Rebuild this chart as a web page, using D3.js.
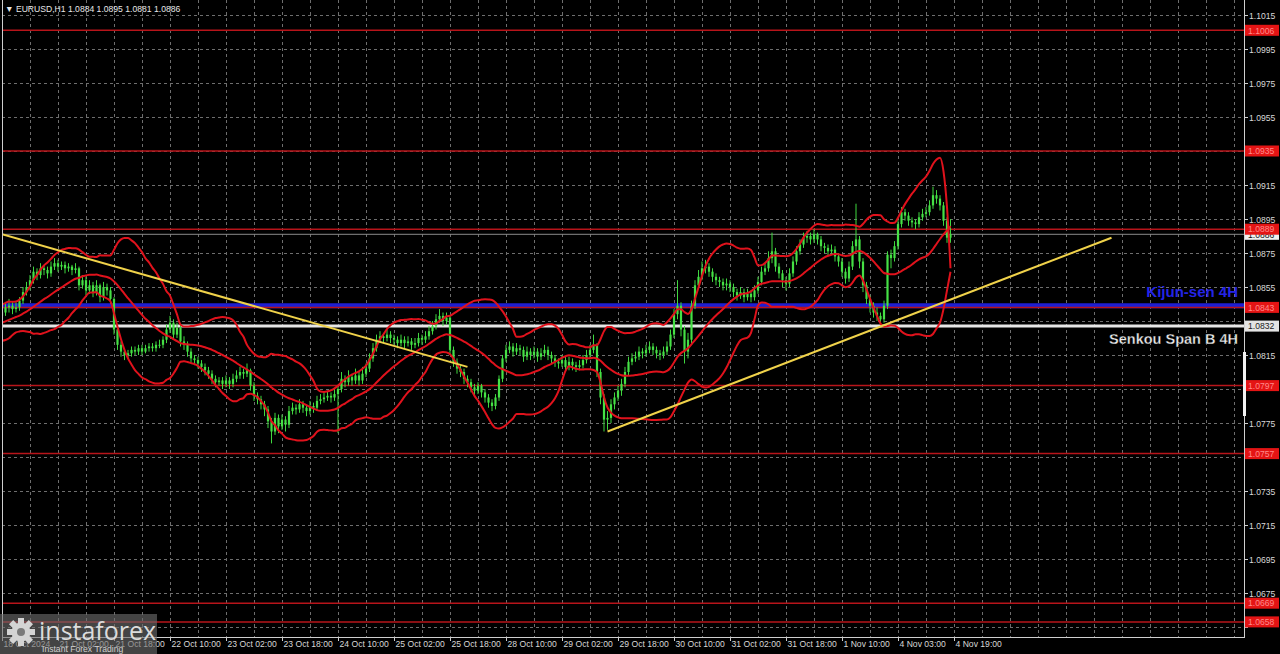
<!DOCTYPE html>
<html><head><meta charset="utf-8">
<script src="https://cdn.jsdelivr.net/npm/d3@7"></script>
<style>html,body{margin:0;padding:0;background:#000;overflow:hidden}svg{display:block}</style>
</head><body><svg id="c" width="1280" height="654"></svg>
<script>
// ---------- DATA ----------
const symbolTitle = "EURUSD,H1  1.0884 1.0895 1.0881 1.0886";
const firstOpen = 1.0838;
// 19 hourly closes before the first visible bar (needed for the 20-period bands)
const preCloses = [1.0828,1.0826,1.0824,1.0827,1.0830,1.0829,1.0832,1.0831,1.0834,1.0833,1.0836,1.0835,1.0838,1.0837,1.0840,1.0839,1.0842,1.0838,1.0841];
const closes = [
1.0840,1.0843,1.0844,1.0842,1.0843,1.0847,1.0852,1.0855,1.0859,1.0864,
1.0862,1.0866,1.0865,1.0863,1.0867,1.0869,1.0867,1.0868,1.0866,1.0867,
1.0865,1.0866,1.0856,1.0859,1.0853,1.0856,1.0852,1.0856,1.0849,1.0855,
1.0853,1.0848,1.0830,1.0821,1.0817,1.0815,1.0816,1.0818,1.0817,1.0819,
1.0817,1.0819,1.0820,1.0819,1.0821,1.0821,1.0824,1.0830,1.0834,1.0827,
1.0831,1.0823,1.0821,1.0817,1.0813,1.0812,1.0810,1.0808,1.0806,1.0804,
1.0801,1.0799,1.0800,1.0798,1.0800,1.0798,1.0801,1.0803,1.0805,1.0804,
1.0806,1.0797,1.0791,1.0789,1.0786,1.0783,1.0776,1.0770,1.0778,1.0773,
1.0777,1.0774,1.0782,1.0784,1.0783,1.0786,1.0784,1.0782,1.0785,1.0784,
1.0788,1.0789,1.0790,1.0791,1.0790,1.0792,1.0795,1.0801,1.0799,1.0802,
1.0800,1.0803,1.0800,1.0804,1.0807,1.0813,1.0819,1.0824,1.0826,1.0825,
1.0827,1.0825,1.0824,1.0822,1.0824,1.0822,1.0823,1.0821,1.0822,1.0825,
1.0824,1.0826,1.0829,1.0832,1.0836,1.0838,1.0835,1.0837,1.0818,1.0811,
1.0807,1.0805,1.0801,1.0799,1.0796,1.0794,1.0797,1.0793,1.0790,1.0787,
1.0785,1.0790,1.0801,1.0813,1.0818,1.0820,1.0817,1.0819,1.0818,1.0814,
1.0817,1.0815,1.0817,1.0814,1.0816,1.0818,1.0815,1.0813,1.0811,1.0810,
1.0812,1.0808,1.0811,1.0809,1.0808,1.0809,1.0812,1.0815,1.0818,1.0821,
1.0805,1.0790,1.0777,1.0778,1.0786,1.0790,1.0794,1.0798,1.0805,1.0811,
1.0813,1.0814,1.0817,1.0816,1.0818,1.0820,1.0818,1.0816,1.0815,1.0817,
1.0820,1.0827,1.0839,1.0844,1.0830,1.0817,1.0824,1.0844,1.0856,1.0861,
1.0866,1.0867,1.0864,1.0861,1.0859,1.0858,1.0856,1.0857,1.0855,1.0852,
1.0850,1.0852,1.0849,1.0851,1.0849,1.0853,1.0858,1.0864,1.0866,1.0872,
1.0876,1.0867,1.0863,1.0859,1.0857,1.0863,1.0870,1.0876,1.0880,1.0884,
1.0885,1.0883,1.0886,1.0883,1.0879,1.0878,1.0876,1.0877,1.0873,1.0870,
1.0864,1.0860,1.0867,1.0879,1.0883,1.0870,1.0856,1.0848,1.0844,1.0840,
1.0838,1.0836,1.0844,1.0874,1.0872,1.0879,1.0892,1.0899,1.0897,1.0894,
1.0893,1.0892,1.0896,1.0898,1.0899,1.0903,1.0909,1.0907,1.0903,1.0894,
1.0884,1.0886];
const highs = [
1.0843,1.0846,1.0848,1.0846,1.0846,1.0849,1.0855,1.0858,1.0862,1.0867,
1.0866,1.0869,1.0868,1.0867,1.0870,1.0872,1.0871,1.0870,1.0870,1.0869,
1.0868,1.0869,1.0867,1.0862,1.0861,1.0859,1.0858,1.0859,1.0857,1.0858,
1.0857,1.0855,1.0849,1.0832,1.0823,1.0819,1.0818,1.0820,1.0820,1.0821,
1.0821,1.0821,1.0822,1.0822,1.0823,1.0824,1.0826,1.0833,1.0838,1.0836,
1.0834,1.0833,1.0826,1.0823,1.0819,1.0815,1.0814,1.0812,1.0810,1.0808,
1.0806,1.0803,1.0802,1.0802,1.0803,1.0802,1.0804,1.0806,1.0808,1.0807,
1.0810,1.0807,1.0799,1.0793,1.0791,1.0788,1.0785,1.0778,1.0781,1.0780,
1.0780,1.0779,1.0785,1.0787,1.0786,1.0789,1.0788,1.0786,1.0788,1.0787,
1.0791,1.0792,1.0793,1.0794,1.0793,1.0795,1.0797,1.0805,1.0803,1.0806,
1.0804,1.0807,1.0805,1.0808,1.0810,1.0816,1.0822,1.0827,1.0829,1.0828,
1.0830,1.0829,1.0827,1.0826,1.0827,1.0826,1.0826,1.0825,1.0825,1.0828,
1.0827,1.0829,1.0832,1.0835,1.0839,1.0842,1.0840,1.0840,1.0838,1.0820,
1.0813,1.0809,1.0807,1.0803,1.0801,1.0798,1.0799,1.0798,1.0795,1.0792,
1.0789,1.0792,1.0803,1.0815,1.0821,1.0823,1.0822,1.0822,1.0821,1.0820,
1.0820,1.0819,1.0820,1.0819,1.0819,1.0821,1.0820,1.0817,1.0815,1.0813,
1.0815,1.0814,1.0814,1.0813,1.0811,1.0812,1.0815,1.0818,1.0821,1.0827,
1.0822,1.0807,1.0792,1.0782,1.0789,1.0793,1.0797,1.0801,1.0808,1.0814,
1.0816,1.0817,1.0820,1.0819,1.0821,1.0823,1.0822,1.0820,1.0818,1.0820,
1.0823,1.0830,1.0842,1.0859,1.0846,1.0832,1.0828,1.0847,1.0859,1.0865,
1.0870,1.0871,1.0869,1.0866,1.0863,1.0861,1.0860,1.0860,1.0859,1.0857,
1.0854,1.0855,1.0854,1.0854,1.0853,1.0856,1.0861,1.0867,1.0869,1.0876,
1.0887,1.0878,1.0869,1.0865,1.0861,1.0866,1.0873,1.0879,1.0883,1.0887,
1.0888,1.0887,1.0889,1.0887,1.0885,1.0881,1.0880,1.0880,1.0879,1.0875,
1.0872,1.0866,1.0870,1.0882,1.0904,1.0885,1.0872,1.0858,1.0850,1.0846,
1.0843,1.0840,1.0847,1.0876,1.0877,1.0882,1.0895,1.0902,1.0901,1.0899,
1.0896,1.0895,1.0899,1.0901,1.0902,1.0906,1.0914,1.0912,1.0909,1.0905,
1.0896,1.0895];
const lows = [
1.0835,1.0838,1.0840,1.0839,1.0840,1.0841,1.0845,1.0850,1.0853,1.0857,
1.0859,1.0860,1.0862,1.0860,1.0861,1.0865,1.0864,1.0865,1.0863,1.0864,
1.0862,1.0863,1.0853,1.0854,1.0850,1.0851,1.0849,1.0850,1.0846,1.0847,
1.0850,1.0845,1.0827,1.0818,1.0814,1.0812,1.0813,1.0814,1.0815,1.0815,
1.0815,1.0816,1.0817,1.0817,1.0817,1.0819,1.0819,1.0822,1.0828,1.0824,
1.0825,1.0820,1.0818,1.0814,1.0810,1.0809,1.0807,1.0805,1.0803,1.0801,
1.0798,1.0796,1.0797,1.0795,1.0796,1.0795,1.0796,1.0799,1.0801,1.0801,
1.0802,1.0794,1.0788,1.0786,1.0783,1.0779,1.0772,1.0763,1.0768,1.0769,
1.0771,1.0770,1.0772,1.0780,1.0780,1.0781,1.0781,1.0779,1.0780,1.0781,
1.0782,1.0786,1.0787,1.0788,1.0787,1.0788,1.0769,1.0793,1.0796,1.0797,
1.0797,1.0798,1.0797,1.0798,1.0802,1.0805,1.0811,1.0817,1.0822,1.0822,
1.0823,1.0822,1.0821,1.0819,1.0820,1.0819,1.0820,1.0818,1.0819,1.0820,
1.0821,1.0822,1.0824,1.0827,1.0830,1.0834,1.0832,1.0833,1.0815,1.0808,
1.0804,1.0802,1.0798,1.0796,1.0793,1.0791,1.0792,1.0790,1.0787,1.0784,
1.0782,1.0783,1.0788,1.0799,1.0811,1.0816,1.0814,1.0815,1.0815,1.0811,
1.0812,1.0812,1.0813,1.0811,1.0812,1.0814,1.0812,1.0810,1.0808,1.0807,
1.0808,1.0805,1.0806,1.0806,1.0805,1.0806,1.0807,1.0810,1.0813,1.0816,
1.0802,1.0786,1.0770,1.0771,1.0775,1.0783,1.0788,1.0791,1.0796,1.0803,
1.0809,1.0811,1.0812,1.0813,1.0814,1.0816,1.0815,1.0813,1.0812,1.0813,
1.0815,1.0818,1.0825,1.0836,1.0826,1.0810,1.0813,1.0822,1.0842,1.0854,
1.0859,1.0863,1.0861,1.0858,1.0856,1.0855,1.0853,1.0853,1.0852,1.0849,
1.0847,1.0848,1.0846,1.0847,1.0846,1.0847,1.0851,1.0856,1.0862,1.0864,
1.0869,1.0864,1.0860,1.0855,1.0853,1.0855,1.0861,1.0868,1.0874,1.0878,
1.0881,1.0880,1.0881,1.0880,1.0876,1.0875,1.0873,1.0874,1.0870,1.0867,
1.0861,1.0857,1.0858,1.0865,1.0876,1.0866,1.0852,1.0845,1.0840,1.0837,
1.0835,1.0833,1.0834,1.0842,1.0866,1.0870,1.0877,1.0890,1.0894,1.0891,
1.0890,1.0889,1.0890,1.0894,1.0896,1.0897,1.0901,1.0904,1.0900,1.0891,
1.0881,1.0881];
// band values of the last four bars as drawn on the reference (they close the band loop)
const upperTail = [1.0931,1.0923,1.0902,1.0866];
const lowerTail = [1.0834,1.0842,1.0853,1.0864];
const timeLabels = ["18 Oct 2024","21 Oct 02:00","21 Oct 18:00","22 Oct 10:00","23 Oct 02:00","23 Oct 18:00","24 Oct 10:00","25 Oct 02:00","25 Oct 18:00","28 Oct 10:00","29 Oct 02:00","29 Oct 18:00","30 Oct 10:00","31 Oct 02:00","31 Oct 18:00","1 Nov 10:00","4 Nov 03:00","4 Nov 19:00"];
const priceTicks = [1.1015,1.0995,1.0975,1.0955,1.0935,1.0915,1.0895,1.0875,1.0855,1.0835,1.0815,1.0795,1.0775,1.0755,1.0735,1.0715,1.0695,1.0675,1.0655];
const levels = [1.1006,1.0935,1.0889,1.0843,1.0797,1.0757,1.0669,1.0658];
const kijunSen = 1.0844;
const senkouSpanB = 1.0832;
const lastPrice = 1.0886;
const trendDown = [[0,1.0886],[133,1.0808]];
const trendUp = [[173,1.0770],[317,1.0884]];
const bandPeriod = 20, bandDev = 2;

// ---------- LAYOUT ----------
const L = 2, R = 1244, T = 0, B = 637, barW = 3.5;
const svg = d3.select("#c");
svg.append("rect").attr("width",1280).attr("height",654).attr("fill","#000");
const x = d3.scaleLinear().domain([0,(R-L)/barW]).range([L,R]);
const y = d3.scaleLinear().domain([1.0655,1.1015]).range([627,15]);
const FONT = "'Liberation Sans', Arial, sans-serif";
const AX = 8.6;

svg.append("clipPath").attr("id","plot").append("rect").attr("x",L).attr("y",T).attr("width",R-L).attr("height",B-T);
const g = svg.append("g").attr("clip-path","url(#plot)");

// grid
const vg = d3.range(8, (R-L)/barW, 8);
g.selectAll(".vg").data(vg).join("line")
  .attr("x1",d=>Math.round(x(d))+0.5).attr("x2",d=>Math.round(x(d))+0.5).attr("y1",T).attr("y2",B)
  .attr("stroke","#6e6e6e").attr("stroke-dasharray","3,3").attr("stroke-width",1);
g.selectAll(".hg").data(priceTicks).join("line")
  .attr("x1",L).attr("x2",R).attr("y1",d=>Math.round(y(d))+0.5).attr("y2",d=>Math.round(y(d))+0.5)
  .attr("stroke","#6e6e6e").attr("stroke-dasharray","3,3").attr("stroke-width",1);

// levels
g.selectAll(".lv").data(levels).join("line")
  .attr("x1",L).attr("x2",R).attr("y1",d=>y(d)).attr("y2",d=>y(d))
  .attr("stroke","#b8141a").attr("stroke-width",1.5);
// current price line
g.append("line").attr("x1",L).attr("x2",R).attr("y1",y(lastPrice)).attr("y2",y(lastPrice)).attr("stroke","#8a8a8a").attr("stroke-width",1);
// kijun
g.append("line").attr("x1",L).attr("x2",R).attr("y1",y(kijunSen)).attr("y2",y(kijunSen)).attr("stroke","#1e1ed2").attr("stroke-width",5);
g.append("line").attr("x1",L).attr("x2",R).attr("y1",y(levels[3])).attr("y2",y(levels[3])).attr("stroke","#b8141a").attr("stroke-width",1.2);
// senkou B
g.append("line").attr("x1",L).attr("x2",R).attr("y1",y(senkouSpanB)).attr("y2",y(senkouSpanB)).attr("stroke","#e6e6e6").attr("stroke-width",3);

// candles
const bars = closes.map((c,i)=>({i, o: i===0?firstOpen:closes[i-1], c, h: highs[i], l: lows[i]}));
const cg = g.append("g");
cg.selectAll(".wk").data(bars).join("line")
  .attr("x1",d=>x(d.i)).attr("x2",d=>x(d.i))
  .attr("y1",d=>y(Math.max(d.h,d.o,d.c))).attr("y2",d=>y(Math.min(d.l,d.o,d.c)))
  .attr("stroke","#3fd83f").attr("stroke-width",1);
cg.selectAll(".bd").data(bars).join("rect")
  .attr("x",d=>x(d.i)-1.1).attr("width",2.2)
  .attr("y",d=>y(Math.max(d.o,d.c))).attr("height",d=>Math.max(1,Math.abs(y(d.o)-y(d.c))))
  .attr("fill","#45e045");

// bollinger bands from closes
const all = preCloses.concat(closes);
const n = closes.length;
const bands = closes.map((c,i)=>{
  const w = all.slice(i+preCloses.length-bandPeriod+1, i+preCloses.length+1);
  const m = d3.mean(w);
  const sd = Math.sqrt(d3.mean(w, v=>(v-m)*(v-m)));
  const k = i-(n-upperTail.length);
  return {i, m, u: k>=0?upperTail[k]:m+bandDev*sd, d: k>=0?lowerTail[k]:m-bandDev*sd};
});
const bl = k => d3.line().x(d=>x(d.i)).y(d=>y(d[k])).curve(d3.curveMonotoneX);
["u","m","d"].forEach(k=>{
  g.append("path").datum(bands).attr("d",bl(k)).attr("fill","none").attr("stroke","#e0121c").attr("stroke-width",2);
});

// trend lines
[trendDown,trendUp].forEach(t=>{
  g.append("line").attr("x1",x(t[0][0])).attr("y1",y(t[0][1])).attr("x2",x(t[1][0])).attr("y2",y(t[1][1]))
   .attr("stroke","#f0d24a").attr("stroke-width",2);
});

// labels in plot
g.append("text").attr("x",1238).attr("y",297).attr("text-anchor","end").attr("font-family",FONT)
  .attr("font-weight","bold").attr("font-size",15).attr("fill","#2424e6").text("Kijun-sen 4H");
g.append("text").attr("x",1238).attr("y",344).attr("text-anchor","end").attr("font-family",FONT)
  .attr("font-weight","bold").attr("font-size",14.5).attr("fill","#ececec").attr("stroke","#000").attr("stroke-width",0.3).text("Senkou Span B 4H");

// frame
svg.append("line").attr("x1",L+0.5).attr("x2",L+0.5).attr("y1",T).attr("y2",B).attr("stroke","#cfcfcf");
svg.append("line").attr("x1",R+0.5).attr("x2",R+0.5).attr("y1",T).attr("y2",B+1).attr("stroke","#cfcfcf");
svg.append("line").attr("x1",L).attr("x2",R+1).attr("y1",B+0.5).attr("y2",B+0.5).attr("stroke","#cfcfcf");

// right axis (tick texts hidden by a level label are not drawn)
const ra = svg.append("g");
const covered = p => levels.concat([senkouSpanB,lastPrice]).some(l=>Math.abs(y(l)-y(p))<7);
priceTicks.forEach(p=>{
  const yy = Math.round(y(p))+0.5;
  ra.append("line").attr("x1",R).attr("x2",R+4).attr("y1",yy).attr("y2",yy).attr("stroke","#cfcfcf");
  if(!covered(p)) ra.append("text").attr("x",R+5).attr("y",yy+3.2).attr("font-family",FONT).attr("font-size",AX).attr("fill","#d8d8d8").text(p.toFixed(4));
});
// side bar marker
svg.append("rect").attr("x",R-1).attr("y",352).attr("width",3).attr("height",64).attr("fill","#f2f2f2");

// price labels
function plabel(p, bg, fg, txt){
  const yy = y(p);
  ra.append("rect").attr("x",R+1).attr("y",yy-5.5).attr("width",34).attr("height",11).attr("fill",bg);
  ra.append("text").attr("x",R+4).attr("y",yy+3.2).attr("font-family",FONT).attr("font-size",AX).attr("fill",fg).text(txt);
}
plabel(lastPrice,"#f0f0f0","#111",lastPrice.toFixed(4));
plabel(senkouSpanB,"#e4e4e4","#222",senkouSpanB.toFixed(4));
levels.forEach(p=>plabel(p,"#e41414","#ff8a8a",p.toFixed(4)));

// bottom axis
const ba = svg.append("g");
timeLabels.forEach((t,k)=>{
  const xx = Math.round(x(k*16))+0.5;
  ba.append("line").attr("x1",xx).attr("x2",xx).attr("y1",B).attr("y2",B+4).attr("stroke","#cfcfcf");
  ba.append("text").attr("x",xx+1).attr("y",647).attr("font-family",FONT).attr("font-size",AX).attr("fill","#d8d8d8").text(t);
});

// title
svg.append("text").attr("x",5).attr("y",12).attr("font-family",FONT).attr("font-size",AX).attr("fill","#e8e8e8").text("\u25BC " + symbolTitle);

// logo
const lg = svg.append("g");
lg.append("rect").attr("x",0).attr("y",614).attr("width",157).attr("height",40).attr("fill","rgba(110,110,110,0.62)");
const gear = lg.append("g").attr("transform","translate(21,632)");
d3.range(8).forEach(k=>gear.append("rect").attr("x",-3).attr("y",-14).attr("width",6).attr("height",7).attr("fill","#d4d4d4").attr("transform",`rotate(${k*45})`));
gear.append("circle").attr("r",9.5).attr("fill","#d4d4d4");
gear.append("circle").attr("r",4).attr("fill","#7a7a7a");
lg.append("text").attr("x",39).attr("y",640).attr("font-family","'Open Sans', "+FONT).attr("font-size",25).attr("fill","#dcdcdc").text("instaforex");
lg.append("text").attr("x",42).attr("y",652).attr("font-family",FONT).attr("font-size",8.6).attr("fill","#d0d0d0").text("Instant Forex Trading");
</script></body></html>
